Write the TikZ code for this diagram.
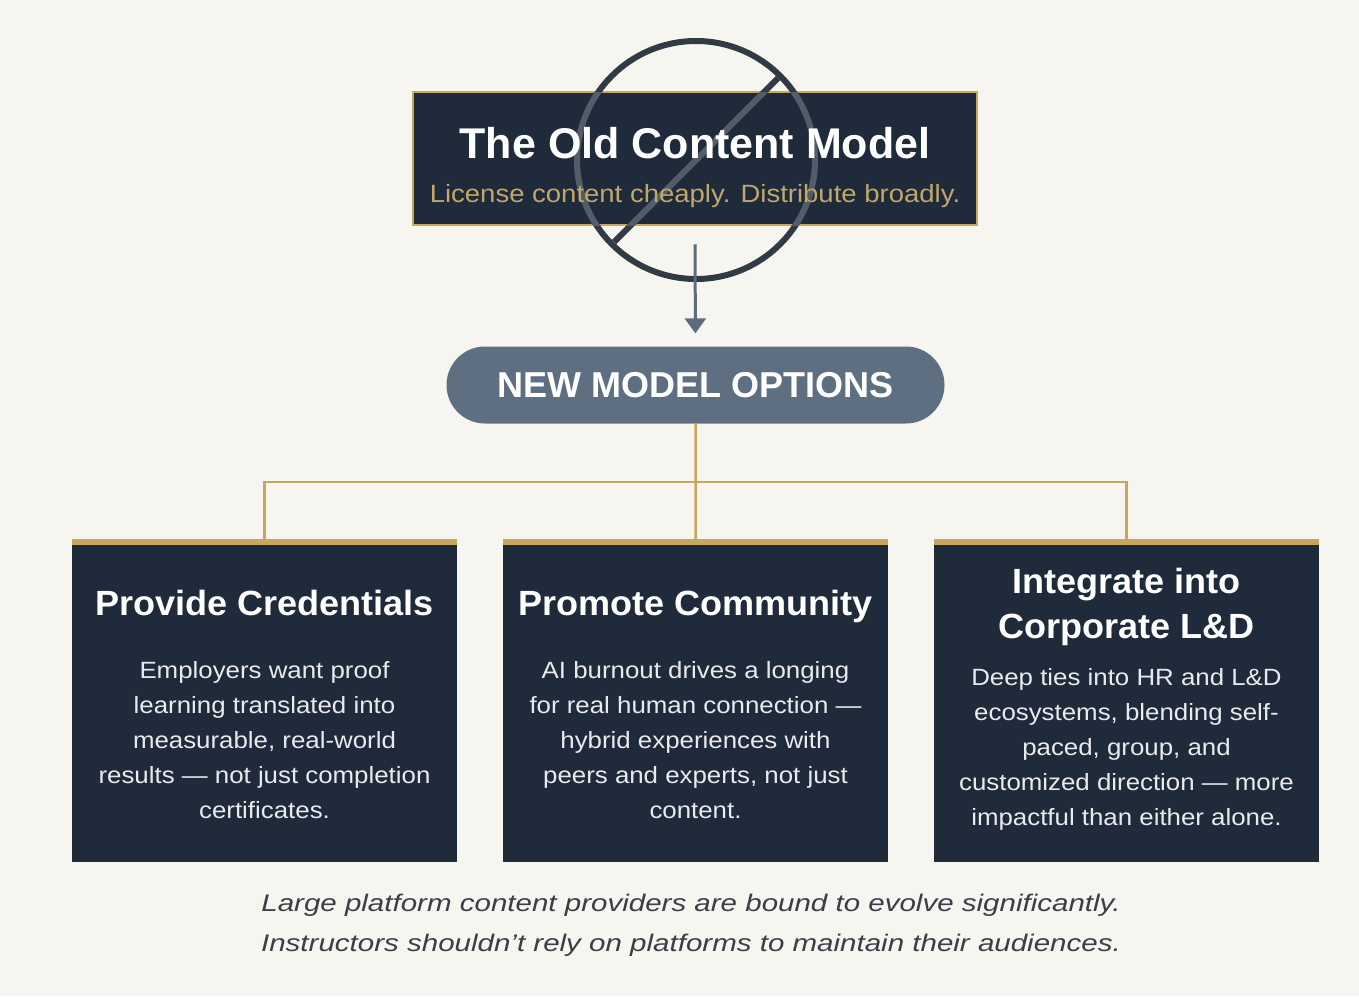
\documentclass[tikz,border=0pt]{standalone}
\usepackage{fontspec}
\setmainfont{Liberation Sans}
\newfontfamily\wideA[FakeStretch=1.1]{Liberation Sans}
\newfontfamily\wideB[FakeStretch=1.03]{Liberation Sans}
\newfontfamily\wideC[FakeStretch=1.23]{Liberation Sans}
\usetikzlibrary{arrows.meta,calc}
\definecolor{bgc}{HTML}{F7F5F0}
\definecolor{navy}{HTML}{1F2A3B}
\definecolor{gold}{HTML}{C6A75E}
\definecolor{subgold}{HTML}{C0A76A}
\definecolor{pillc}{HTML}{5F6F82}
\definecolor{arrowc}{HTML}{5E6B7B}
\definecolor{ringdark}{HTML}{323A46}
\definecolor{ringlight}{HTML}{535C69}
\definecolor{bodytxt}{HTML}{E9EAEC}
\definecolor{foottxt}{HTML}{3A3E46}
\begin{document}
\begin{tikzpicture}[x=1pt,y=-1pt,
  card/.style={fill=navy, minimum width=385pt, minimum height=323pt, inner sep=0pt, anchor=north west},
  goldbar/.style={fill=gold},
  cardtitle/.style={text=white, font=\wideB\bfseries\fontsize{35}{45}\selectfont, anchor=base, inner sep=0pt, align=center},
  cardbody/.style={text=bodytxt, font=\wideA\fontsize{23.5}{35}\selectfont, anchor=base, inner sep=0pt, align=center},
  link/.style={draw=gold, line width=2.5pt},
  ring/.style={line width=6pt},
]
% background
\fill[bgc] (0,0) rectangle (1359,996);

% old model box
\node[fill=navy, draw=gold, line width=2.5pt, minimum width=564pt, minimum height=133pt, inner sep=0pt] (old) at (695,158.5) {};

% prohibition ring
\draw[ringdark, ring] (696,160) circle (119pt);
\draw[ringdark, ring] (778,78) -- (614,242);
\begin{scope}
  \clip (413,92) rectangle (977,225);
  \draw[ringlight, ring] (696,160) circle (119pt);
  \draw[ringlight, ring] (778,78) -- (614,242);
\end{scope}

\node[text=white, font=\bfseries\fontsize{43}{50}\selectfont, anchor=base, inner sep=0pt] (oldtitle) at (695,158) {The Old Content Model};
\node[text=subgold, font=\wideA\fontsize{25}{30}\selectfont, anchor=base, inner sep=0pt] (oldsub) at (695,202) {License content cheaply. Distribute broadly.};

% new model pill
\node[fill=pillc, rounded corners=38.5pt, minimum width=498pt, minimum height=77pt, inner sep=0pt,
      text=white, font=\bfseries\fontsize{36}{40}\selectfont] (new) at (695.5,385) {NEW MODEL OPTIONS};

\draw[arrowc, line width=3pt, -{Triangle[length=15pt,width=21pt]}, shorten >=13pt] ([yshift=-18pt]old.south) -- (new.north);

% cards
\node[card] (c1) at (72,539) {};
\node[card] (c2) at (503,539) {};
\node[card] (c3) at (934,539) {};
\fill[goldbar] (c1.north west) rectangle ($(c1.north east)+(0,6)$);
\fill[goldbar] (c2.north west) rectangle ($(c2.north east)+(0,6)$);
\fill[goldbar] (c3.north west) rectangle ($(c3.north east)+(0,6)$);

% connectors
\coordinate (bus) at (695.5,482);
\draw[link] (new.south) -- (c2.north);
\draw[link] (c1.north) -- (c1.north |- bus) -- (c3.north |- bus) -- (c3.north);

% card texts (anchor = baseline of last line)
\node[cardtitle] (t1) at (264.5,615) {Provide Credentials};
\node[cardbody] (b1) at (264.5,818) {Employers want proof\\learning translated into\\measurable, real-world\\results — not just completion\\certificates.};

\node[cardtitle] (t2) at (695.5,615) {Promote Community};
\node[cardbody] (b2) at (695.5,818) {AI burnout drives a longing\\for real human connection —\\hybrid experiences with\\peers and experts, not just\\content.};

\node[cardtitle] (t3) at (1126.5,638) {Integrate into\\Corporate L\&D};
\node[cardbody] (b3) at (1126.5,825) {Deep ties into HR and L\&D\\ecosystems, blending self-\\paced, group, and\\customized direction — more\\impactful than either alone.};

% footnote
\node[text=foottxt, font=\wideC\itshape\fontsize{24}{40}\selectfont, anchor=base, inner sep=0pt, align=center] (foot) at (691,951) {Large platform content providers are bound to evolve significantly.\\Instructors shouldn’t rely on platforms to maintain their audiences.};
\end{tikzpicture}
\end{document}
